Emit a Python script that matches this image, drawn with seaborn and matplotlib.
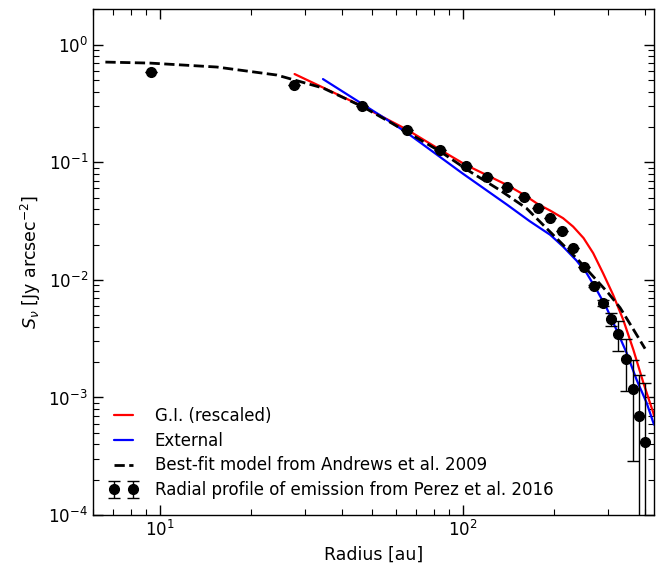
import numpy as np
import pandas as pd
import matplotlib
matplotlib.use("Agg")
import matplotlib.pyplot as plt
import seaborn as sns

# observed radial profile (Perez et al. 2016)
r_obs = [9.34, 27.7, 46.4, 65.3, 84.0, 102, 120, 140, 159, 177, 194, 212,
         231, 251, 270, 290, 307, 326, 345, 364, 381, 399]
s_obs = [0.586, 0.455, 0.302, 0.189, 0.127, 0.0932, 0.0751, 0.0618, 0.0508,
         0.0410, 0.0337, 0.0261, 0.0187, 0.0129, 0.0089, 0.00638, 0.00467,
         0.00348, 0.00213, 0.00119, 0.000698, 0.00042]
s_err = [0, 0, 0, 0, 0, 0, 0, 0, 0, 0, 0, 0, 0, 0, 0.0002, 0.0004, 0.0006,
         0.001, 0.001, 0.0009, 0.00084, 0.0009]

# G.I. (rescaled)
r_gi = [27.8, 45.7, 65.3, 84, 102, 120, 140, 159, 177, 194, 214, 231, 250,
        269, 290, 313, 338, 365, 394, 425, 427]
s_gi = [0.564, 0.307, 0.190, 0.128, 0.0953, 0.0777, 0.0640, 0.0530, 0.0440,
        0.0389, 0.0335, 0.0284, 0.0227, 0.0169, 0.0114, 0.00747, 0.00458,
        0.00255, 0.00133, 0.000738, 0.00070]

# External
r_ext = [34.5, 53.2, 65.2, 100, 140, 166, 180, 194, 214, 237, 256, 276, 298,
         321, 347, 374, 404, 427]
s_ext = [0.511, 0.252, 0.179, 0.0800, 0.0435, 0.0316, 0.0275, 0.0242, 0.0192,
         0.0146, 0.0114, 0.00825, 0.00576, 0.00377, 0.00239, 0.00142,
         0.000898, 0.000587]

# best-fit model, Andrews et al. 2009
r_and = [6.6, 9.27, 15.4, 24.3, 34.5, 46.8, 57.4, 84, 105, 132, 162, 194, 240,
         302, 330, 365, 399]
s_and = [0.713, 0.699, 0.647, 0.553, 0.429, 0.296, 0.220, 0.124, 0.0840,
         0.0583, 0.0407, 0.0256, 0.0148, 0.0077, 0.0058, 0.0038, 0.0026]

sns.set_style("white")
plt.rcParams["font.family"] = ["DejaVu Sans"]
plt.rcParams.update({
    "text.color": "black", "axes.labelcolor": "black",
    "xtick.color": "black", "ytick.color": "black",
    "axes.edgecolor": "black", "axes.linewidth": 1.0,
    "xtick.labelsize": 12, "ytick.labelsize": 12,
    "xtick.direction": "in", "ytick.direction": "in",
    "xtick.top": True, "ytick.right": True,
    "xtick.bottom": True, "ytick.left": True,
    "xtick.major.size": 7, "ytick.major.size": 7,
    "xtick.minor.size": 4, "ytick.minor.size": 4,
    "xtick.major.width": 1.0, "ytick.major.width": 1.0,
    "xtick.minor.width": 0.8, "ytick.minor.width": 0.8,
})

fig = plt.figure(figsize=(6.68, 5.68), dpi=100)
ax = fig.add_axes([0.139, 0.0933, 0.840, 0.891])

sns.lineplot(x=r_gi, y=s_gi, sort=False, color="red", lw=1.6,
             label="G.I. (rescaled)", ax=ax)
sns.lineplot(x=r_ext, y=s_ext, sort=False, color="blue", lw=1.6,
             label="External", ax=ax)
sns.lineplot(x=r_and, y=s_and, sort=False, color="black", lw=2, ls="--",
             label="Best-fit model from Andrews et al. 2009", ax=ax)
ax.errorbar(r_obs, s_obs, yerr=s_err, fmt="o", color="black", ms=7,
            capsize=4, elinewidth=1, ecolor="black",
            label="Radial profile of emission from Perez et al. 2016")

ax.set_xscale("log")
ax.set_yscale("log")
ax.set_xlim(6.0, 427)
ax.set_ylim(1e-4, 2.02)
ax.tick_params(which="both", direction="in", top=True, right=True,
               bottom=True, left=True)

ax.set_xlabel("Radius [au]", fontsize=12.5)
ax.set_ylabel(r"$S_{\nu}$ [Jy arcsec$^{-2}$]", fontsize=12.5)

ax.legend(loc="lower left", frameon=False, numpoints=2, fontsize=12,
          handlelength=1.75, handletextpad=1.0, labelspacing=0.41,
          borderaxespad=0.55)

fig.savefig("out.png", dpi=100)
